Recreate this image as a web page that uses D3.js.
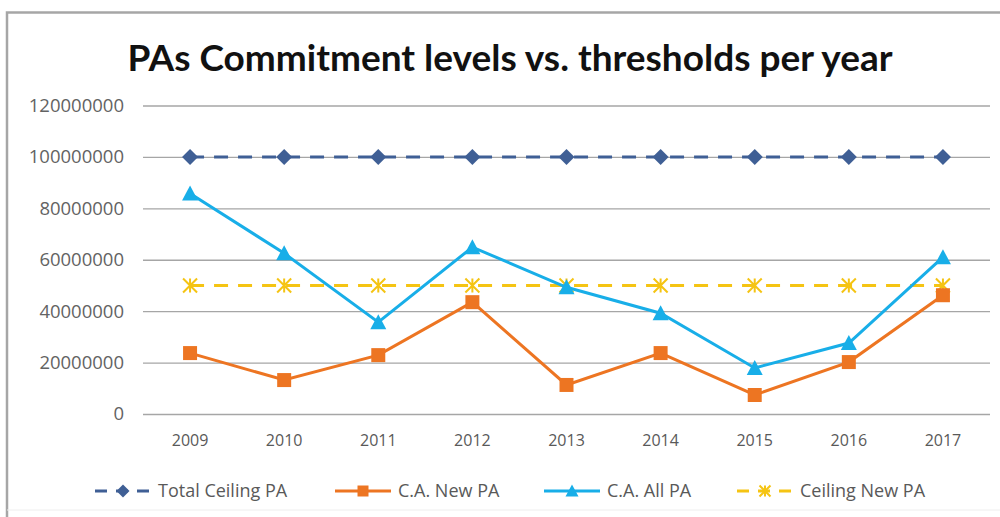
<!DOCTYPE html>
<html>
<head>
<meta charset="utf-8">
<style>
  body { margin: 0; background: #fff; }
  svg { display: block; font-family: "Open Sans", sans-serif; }
  .grid line { stroke: #a6a6a6; stroke-width: 1.3; }
</style>
</head>
<body>
<svg width="1000" height="517"></svg>
<script src="https://cdn.jsdelivr.net/npm/d3@7"></script>
<script>
// data
var years = ["2009", "2010", "2011", "2012", "2013", "2014", "2015", "2016", "2017"];
var totalCeiling = [100000000, 100000000, 100000000, 100000000, 100000000, 100000000, 100000000, 100000000, 100000000];
var caNew = [23700000, 13200000, 22900000, 43500000, 11300000, 23700000, 7400000, 20200000, 46200000];
var caAll = [85800000, 62500000, 35700000, 64900000, 49300000, 39200000, 17900000, 27600000, 61000000];
var ceilingNew = [50000000, 50000000, 50000000, 50000000, 50000000, 50000000, 50000000, 50000000, 50000000];
var yTicks = [0, 20000000, 40000000, 60000000, 80000000, 100000000, 120000000];

var series = [
  {name: "Total Ceiling PA", values: totalCeiling, color: "#3f5f95", dash: "14,10", sym: "diamond"},
  {name: "C.A. New PA", values: caNew, color: "#ed7522", dash: null, sym: "square"},
  {name: "C.A. All PA", values: caAll, color: "#18aee8", dash: null, sym: "triangle"},
  {name: "Ceiling New PA", values: ceilingNew, color: "#f5c413", dash: "14,10", sym: "star"}
];

var svg = d3.select("svg");

// frame
svg.append("path")
  .attr("d", "M7,1017 L7,12.5 L1010,12.5")
  .attr("fill", "none").attr("stroke", "#a6a6a6").attr("stroke-width", 2.5);
svg.append("line").attr("x1", 7).attr("x2", 1000).attr("y1", 510).attr("y2", 510)
  .attr("stroke", "#eeeeee").attr("stroke-width", 1);

svg.append("text")
  .attr("x", 510).attr("y", 71)
  .attr("text-anchor", "middle")
  .attr("font-size", 37).attr("font-weight", "bold")
  .attr("font-family", "Lato, sans-serif")
  .attr("fill", "#111")
  .text("PAs Commitment levels vs. thresholds per year");

var x = d3.scaleBand().domain(years).range([143, 990]);
var y = d3.scaleLinear().domain([0, 120000000]).range([414, 105.5]);

// gridlines + y labels
svg.append("g").attr("class", "grid")
  .attr("transform", "translate(143,0)")
  .call(d3.axisLeft(y).tickValues(yTicks).tickSize(-847).tickPadding(19).tickFormat(d3.format("d")))
  .call(function(g) {
    g.select(".domain").remove();
    g.selectAll("text").attr("fill", "#636363").attr("font-size", 18.5)
      .attr("font-family", "Open Sans, sans-serif");
  });

// x labels
svg.append("g")
  .attr("transform", "translate(0,414)")
  .call(d3.axisBottom(x).tickSize(0).tickPadding(21))
  .call(function(g) {
    g.select(".domain").remove();
    g.selectAll("text").attr("fill", "#595959").attr("font-size", 16)
      .attr("font-family", "Open Sans, sans-serif");
  });

var cx = function(d, i) { return x(years[i]) + x.bandwidth() / 2; };

function drawMarker(g, s, px, py, r) {
  var d;
  if (s.sym === "star") {
    g.append("path")
      .attr("d", "M" + (px - r) + "," + (py - r) + "L" + (px + r) + "," + (py + r) +
                 "M" + (px - r) + "," + (py + r) + "L" + (px + r) + "," + (py - r) +
                 "M" + px + "," + (py - r) + "L" + px + "," + (py + r))
      .attr("stroke", s.color).attr("stroke-width", 2).attr("fill", "none");
    return;
  }
  if (s.sym === "diamond") d = d3.path(), d.moveTo(px, py - r - 1), d.lineTo(px + r + 1, py), d.lineTo(px, py + r + 1), d.lineTo(px - r - 1, py), d.closePath();
  if (s.sym === "square") d = d3.path(), d.rect(px - r, py - r, 2 * r, 2 * r);
  if (s.sym === "triangle") d = d3.path(), d.moveTo(px, py - r - 1), d.lineTo(px + r + 1, py + r), d.lineTo(px - r - 1, py + r), d.closePath();
  g.append("path").attr("d", d.toString()).attr("fill", s.color);
}

var line = d3.line().x(cx).y(function(d) { return y(d); });

// draw order: ceiling lines then C.A. series
[0, 3, 1, 2].forEach(function(k) {
  var s = series[k];
  var g = svg.append("g");
  g.append("path")
    .attr("d", line(s.values))
    .attr("fill", "none")
    .attr("stroke", s.color)
    .attr("stroke-width", 3)
    .attr("stroke-dasharray", s.dash);
  s.values.forEach(function(v, i) { drawMarker(g, s, cx(v, i), y(v), 7); });
});

// legend
var legX = [95, 335, 544, 737];
series.forEach(function(s, i) {
  var g = svg.append("g");
  var lx = legX[i], ly = 491;
  g.append("line")
    .attr("x1", lx).attr("x2", lx + 56).attr("y1", ly).attr("y2", ly)
    .attr("stroke", s.color).attr("stroke-width", 3)
    .attr("stroke-dasharray", s.dash ? "12,9" : null);
  drawMarker(g, s, lx + 28, ly, 5.5);
  g.append("text")
    .attr("x", lx + 63).attr("y", ly + 6)
    .attr("font-size", 18).attr("fill", "#595959")
    .text(s.name);
});
</script>
</body>
</html>
